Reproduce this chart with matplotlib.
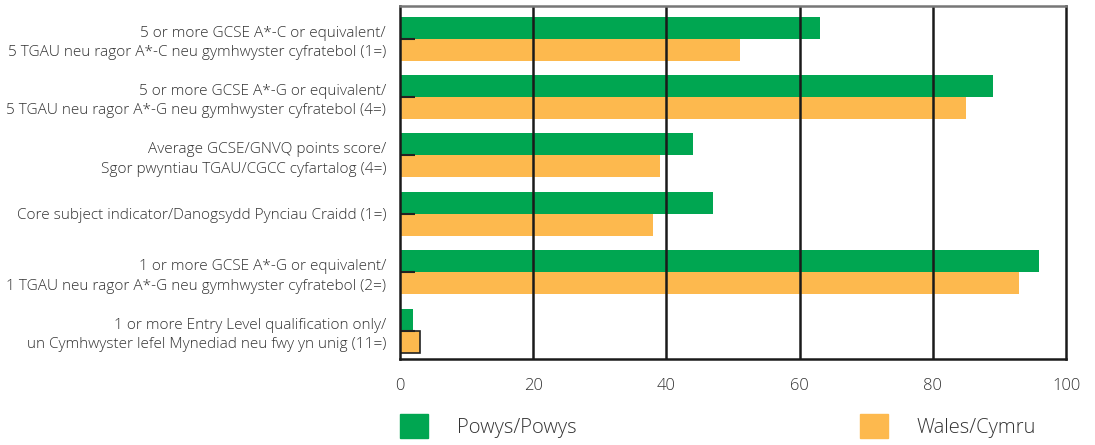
import matplotlib
matplotlib.use('Agg')
import matplotlib.pyplot as plt
import matplotlib.patches as patches
import numpy as np

# data
categories = [
    '5 or more GCSE A*-C or equivalent/\n5 TGAU neu ragor A*-C neu gymhwyster cyfratebol (1=)',
    '5 or more GCSE A*-G or equivalent/\n5 TGAU neu ragor A*-G neu gymhwyster cyfratebol (4=)',
    'Average GCSE/GNVQ points score/\nSgor pwyntiau TGAU/CGCC cyfartalog (4=)',
    'Core subject indicator/Danogsydd Pynciau Craidd (1=)',
    '1 or more GCSE A*-G or equivalent/\n1 TGAU neu ragor A*-G neu gymhwyster cyfratebol (2=)',
    '1 or more Entry Level qualification only/\nun Cymhwyster lefel Mynediad neu fwy yn unig (11=)',
]
powys = [63, 89, 44, 47, 96, 2]
wales = [51, 85, 39, 38, 93, 3]
xticks = [0, 20, 40, 60, 80, 100]
series_names = ['Powys/Powys', 'Wales/Cymru']

green = '#00a651'
orange = '#fdb94e'
text_col = '#333333'

plt.rcParams['font.family'] = ['Open Sans', 'DejaVu Sans']

fig = plt.figure(figsize=(10.95, 4.45), dpi=100)
ax = fig.add_axes([400 / 1095, 1 - 359 / 445, 666 / 1095, 353 / 445])

y = np.arange(len(categories))
h = 0.376
ax.barh(y - h / 2, powys, height=h, color=green, zorder=1)
wb = ax.barh(y + h / 2, wales, height=h, color=orange, zorder=1)
# last orange bar has a dark outline in the original
wb[-1].set_edgecolor('#222222')
wb[-1].set_linewidth(1.2)

ax.set_xlim(0, 100)
ax.set_ylim(5.48, -0.556)
ax.set_xticks(xticks)
ax.set_xticklabels([str(v) for v in xticks], fontsize=12, color=text_col, fontweight='light')
ax.set_yticks(y)
ax.set_yticklabels(categories, fontsize=11.1, color=text_col, linespacing=1.4,
                   fontweight='light')

ax.tick_params(axis='x', length=0, pad=14)
ax.tick_params(axis='y', direction='in', length=11, width=1.5, color='#222222', pad=10)

for v in xticks[1:-1]:
    ax.axvline(v, color='#1a1a1a', linewidth=1.8, zorder=2)

for side in ['left', 'right', 'bottom']:
    ax.spines[side].set_color('#1a1a1a')
    ax.spines[side].set_linewidth(1.8)
ax.spines['top'].set_color('#777777')
ax.spines['top'].set_linewidth(1.8)

# legend, two entries placed far apart
h1 = patches.Patch(color=green, label=series_names[0])
h2 = patches.Patch(color=orange, label=series_names[1])
leg1 = fig.legend(handles=[h1], loc='center left', bbox_to_anchor=(382 / 1095, 1 - 426 / 445),
                  frameon=False, handlelength=1.4, handleheight=1.45,
                  handletextpad=1.4, labelcolor=text_col, prop={'weight': 'light', 'size': 14.5})
leg2 = fig.legend(handles=[h2], loc='center left', bbox_to_anchor=(842 / 1095, 1 - 426 / 445),
                  frameon=False, handlelength=1.4, handleheight=1.45,
                  handletextpad=1.4, labelcolor=text_col, prop={'weight': 'light', 'size': 14.5})

fig.savefig('out.png', dpi=100)
